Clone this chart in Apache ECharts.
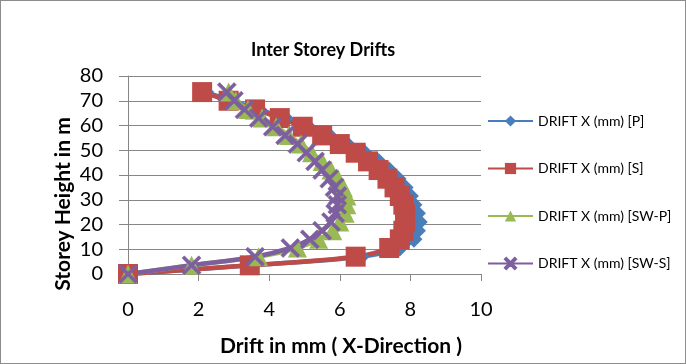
<!DOCTYPE html>
<html>
<head>
<meta charset="utf-8">
<script src="https://cdn.jsdelivr.net/npm/echarts@6/dist/echarts.min.js"></script>
<style>
html,body{margin:0;padding:0;background:#fff;}
#c{width:686px;height:364px;box-sizing:border-box;border:1px solid #8c8c8c;}
</style>
</head>
<body>
<div id="c"></div>
<script>
const heights = [0, 3.5, 7, 10.5, 14, 17.5, 21, 24.5, 28, 31.5, 35, 38.5, 42, 45.5, 49, 52.5, 56, 59.5, 63, 66.5, 70, 73.5];
const driftP   = [0, 3.5, 6.6, 7.7, 8.1, 8.2, 8.25, 8.2, 8.1, 8.0, 7.85, 7.65, 7.4, 7.1, 6.7, 6.2, 5.7, 5.1, 4.45, 3.7, 2.95, 2.2];
const driftS   = [0, 3.45, 6.45, 7.4, 7.7, 7.8, 7.85, 7.85, 7.8, 7.7, 7.55, 7.35, 7.1, 6.8, 6.45, 6.0, 5.5, 4.95, 4.3, 3.6, 2.85, 2.1];
const driftSWP = [0, 1.8, 3.7, 4.8, 5.4, 5.8, 6.0, 6.15, 6.2, 6.2, 6.1, 5.95, 5.75, 5.5, 5.2, 4.9, 4.55, 4.2, 3.8, 3.4, 3.05, 2.85];
const driftSWS = [0, 1.8, 3.6, 4.6, 5.15, 5.5, 5.75, 5.87, 5.93, 5.93, 5.85, 5.7, 5.5, 5.3, 5.05, 4.8, 4.45, 4.1, 3.7, 3.3, 3.0, 2.8];
const seriesNames = ['DRIFT X (mm) [P]', 'DRIFT X (mm) [S]', 'DRIFT X (mm) [SW-P]', 'DRIFT X (mm) [SW-S]'];
const xTicks = [0, 2, 4, 6, 8, 10];
const yTicks = [0, 10, 20, 30, 40, 50, 60, 70, 80];
const chartTitle = 'Inter Storey Drifts';
const xTitle = 'Drift in mm ( X-Direction )';
const yTitle = 'Storey Height in m';

const colors = ['#4a7ebb', '#be4b48', '#98b954', '#7d5fa0'];
const xSym = 'path://M0,1.2 L1.2,0 L5,3.8 L8.8,0 L10,1.2 L6.2,5 L10,8.8 L8.8,10 L5,6.2 L1.2,10 L0,8.8 L3.8,5 Z';
const symbols = ['diamond', 'rect', 'triangle', xSym];
const sizes = [17, 20, 19, 19];
const allData = [driftP, driftS, driftSWP, driftSWS];
const font = 'Lato, "Liberation Sans", sans-serif';

const chart = echarts.init(document.getElementById('c'));
chart.setOption({
  animation: false,
  title: {
    text: chartTitle,
    left: 317, top: 35, textAlign: 'center',
    textStyle: {fontFamily: font, fontSize: 18, fontWeight: 'bold', color: '#000'}
  },
  legend: {
    orient: 'vertical',
    left: 486, top: 113, padding: 0,
    itemWidth: 45, itemHeight: 14,
    itemGap: 33.5,
    textStyle: {fontFamily: font, fontSize: 14, color: '#000'},
    data: seriesNames
  },
  graphic: [
    {type: 'text', x: 62, y: 203, rotation: Math.PI / 2,
     style: {text: yTitle, font: 'bold 21px ' + font, fill: '#000', align: 'center', verticalAlign: 'middle'}},
    {type: 'text', x: 340, y: 345,
     style: {text: xTitle, font: 'bold 21px ' + font, fill: '#000', align: 'center', verticalAlign: 'middle'}}
  ],
  grid: {left: 127, right: 204, top: 75, bottom: 89, containLabel: false},
  xAxis: {
    type: 'value', min: 0, max: 10, interval: 2,
    axisLine: {show: true, lineStyle: {color: '#868686', width: 1}},
    axisTick: {show: true, length: 7, lineStyle: {color: '#868686'}},
    axisLabel: {fontFamily: font, fontSize: 20, color: '#000', margin: 26,
      formatter: v => xTicks.includes(v) ? String(v) : ''},
    splitLine: {show: false}
  },
  yAxis: {
    type: 'value', min: 0, max: 80, interval: 10,
    axisLine: {show: true, lineStyle: {color: '#868686', width: 1}},
    axisTick: {show: true, length: 9, lineStyle: {color: '#868686'}},
    axisLabel: {fontFamily: font, fontSize: 20, color: '#000', margin: 25,
      formatter: v => yTicks.includes(v) ? String(v) : ''},
    splitLine: {show: true, lineStyle: {color: '#868686', width: 1}}
  },
  series: allData.map((arr, i) => ({
    name: seriesNames[i],
    type: 'line',
    smooth: 0.35,
    data: arr.map((x, k) => [x, heights[k]]),
    symbol: symbols[i],
    symbolSize: sizes[i],
    showAllSymbol: true,
    lineStyle: {color: colors[i], width: 4.5},
    itemStyle: {color: colors[i], borderColor: colors[i], borderWidth: i === 3 ? 0.6 : 0},
    emphasis: {disabled: true}
  }))
});
</script>
</body>
</html>
